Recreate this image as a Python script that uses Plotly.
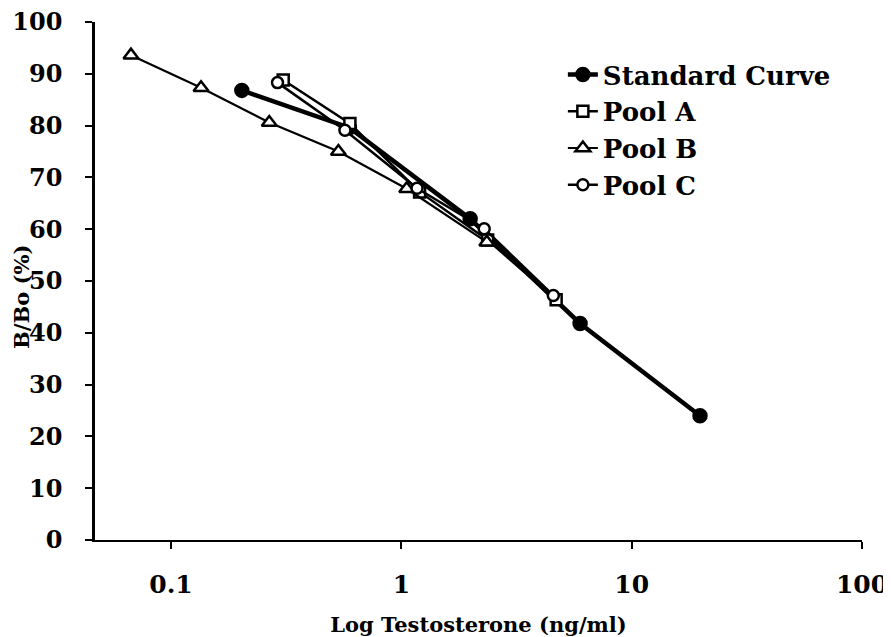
import plotly.graph_objects as go

# ---- data ----
std_x = [0.203, 0.595, 1.99, 5.97, 19.8]
std_y = [86.8, 79.6, 62.0, 41.8, 24.0]

poolA_x = [0.307, 0.598, 1.20, 2.37, 4.70]
poolA_y = [88.8, 80.4, 67.2, 57.9, 46.4]

poolB_x = [0.067, 0.135, 0.267, 0.533, 1.055, 2.35]
poolB_y = [93.6, 87.3, 80.6, 75.0, 67.8, 57.5]

poolC_x = [0.290, 0.569, 1.17, 2.29, 4.57]
poolC_y = [88.3, 79.1, 67.9, 60.1, 47.2]

x_ticks = [0.1, 1, 10, 100]
x_tick_text = ["0.1", "1", "10", "100"]
y_ticks = list(range(0, 101, 10))

FONT = "DejaVu Serif"

fig = go.Figure()

def add(name, xs, ys, symbol, fill, lw, size, group):
    fig.add_trace(go.Scatter(
        x=xs, y=ys, name=name, mode="lines+markers",
        line=dict(color="black", width=lw),
        marker=dict(symbol=symbol, size=size, color=fill,
                    line=dict(color="black", width=2.5)),
        legendgroup=group,
    ))

add("Standard Curve", std_x, std_y, "circle", "black", 4.5, 13, "s")
add("Pool A", poolA_x, poolA_y, "square", "white", 2.5, 11, "a")
add("Pool B", poolB_x, poolB_y, "triangle-up", "white", 2.2, 13, "b")
add("Pool C", poolC_x, poolC_y, "circle", "white", 2.5, 11, "c")

# page body has an 8px margin, so the figure is offset by 8px
fig.update_layout(
    width=883, height=629,
    margin=dict(l=87, r=29, t=14, b=97, autoexpand=False),
    paper_bgcolor="white", plot_bgcolor="white",
    font=dict(family=FONT, color="black", size=22, weight="bold"),
    legend=dict(x=0.610, y=0.944, xanchor="left", yanchor="top",
                bgcolor="rgba(0,0,0,0)", traceorder="grouped", tracegroupgap=0,
                font=dict(family=FONT, size=26, weight="bold")),
    annotations=[dict(text="B/Bo (%)", textangle=-90, xref="paper", yref="paper",
                      x=-0.096, y=0.47, xanchor="center", yanchor="middle",
                      showarrow=False, borderpad=0,
                      font=dict(family=FONT, size=21, weight="bold"))],
)
fig.update_xaxes(
    type="log", range=[-1.33, 2.0], automargin=False,
    tickvals=x_ticks, ticktext=x_tick_text,
    ticks="outside", ticklen=7, tickwidth=2, tickcolor="black",
    ticklabelstandoff=14, ticklabeloverflow="allow",
    showline=True, linecolor="black", linewidth=2,
    showgrid=False, zeroline=False,
    tickfont=dict(family=FONT, size=25, weight="bold"),
    title=dict(text="Log Testosterone (ng/ml)", standoff=30,
               font=dict(family=FONT, size=21, weight="bold")),
)
fig.update_yaxes(
    range=[0, 100], tickvals=y_ticks, automargin=False,
    ticks="outside", ticklen=7, tickwidth=2, tickcolor="black",
    ticklabelstandoff=18, ticklabeloverflow="allow",
    showline=True, linecolor="black", linewidth=2.5,
    showgrid=False, zeroline=False,
    tickfont=dict(family=FONT, size=24, weight="bold"),
)

fig.write_html("out.html")
